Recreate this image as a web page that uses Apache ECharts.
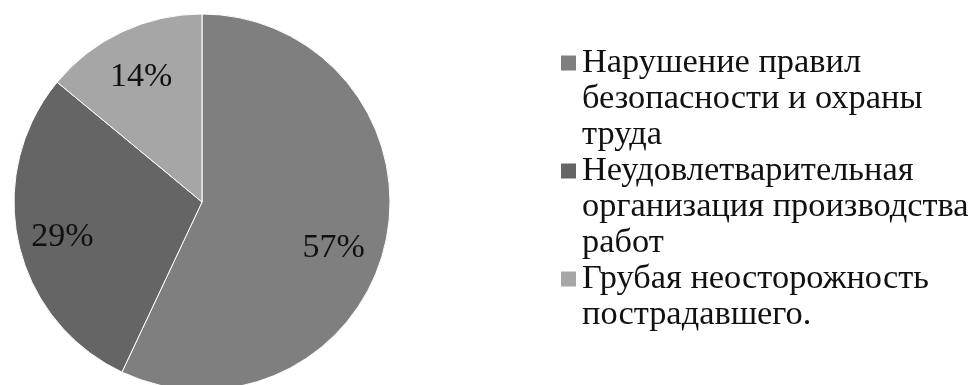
<!DOCTYPE html>
<html>
<head>
<meta charset="utf-8">
<script src="https://cdn.jsdelivr.net/npm/echarts@6/dist/echarts.min.js"></script>
<style>
  html, body { margin: 0; padding: 0; background: #fff; }
  #chart { width: 975px; height: 385px; }
</style>
</head>
<body>
<div id="chart"></div>
<script>
// Causes of workplace accidents, share in percent
const categories = [
  'Нарушение правил\nбезопасности и охраны\nтруда',
  'Неудовлетварительная\nорганизация производства\nработ',
  'Грубая неосторожность\nпострадавшего.'
];
const values = [57, 29, 14];
const colors = ['#7f7f7f', '#656565', '#a6a6a6'];

const FONT = "'Liberation Serif', 'Times New Roman', serif";
const pieData = categories.map((name, i) => ({ name: name, value: values[i] }));

// legend swatches are drawn as rich-text boxes on the first line of each entry
const rich = {
  ind: { width: 15 },
  t: { fontFamily: FONT, fontSize: 34.4, lineHeight: 36, color: '#111', padding: [0, 0, 0, 6] }
};
colors.forEach((c, i) => {
  rich['b' + i] = { width: 15, height: 15, backgroundColor: c };
});

const chart = echarts.init(document.getElementById('chart'), null, { renderer: 'canvas' });
chart.setOption({
  animation: false,
  backgroundColor: '#fff',
  legend: {
    orient: 'vertical',
    left: 555,
    top: 45,
    padding: 0,
    itemGap: 0,
    itemWidth: 0,
    itemHeight: 0,
    selectedMode: false,
    itemStyle: { opacity: 0 },
    data: categories,
    textStyle: { fontFamily: FONT, fontSize: 34.4, lineHeight: 36, color: '#111', rich: rich },
    formatter: function (name) {
      const i = categories.indexOf(name);
      return name.split('\n')
        .map((line, k) => (k === 0 ? '{b' + i + '| }' : '{ind| }') + '{t|' + line + '}')
        .join('\n');
    }
  },
  series: [
    {
      type: 'pie',
      center: [202, 202],
      radius: [0, 188],
      startAngle: 90,
      clockwise: true,
      silent: true,
      color: colors,
      itemStyle: { borderColor: '#ffffff', borderWidth: 1 },
      label: { show: false },
      labelLine: { show: false },
      emphasis: { disabled: true },
      data: pieData
    },
    {
      // transparent ring that carries the percentage labels
      type: 'pie',
      center: [202, 202],
      radius: [92, 188],
      startAngle: 90,
      clockwise: true,
      silent: true,
      itemStyle: { color: 'rgba(0,0,0,0)' },
      label: {
        show: true,
        position: 'inside',
        fontFamily: FONT,
        fontSize: 34,
        color: '#111',
        offset: [0, 4],
        formatter: function (p) { return p.value + '%'; }
      },
      labelLine: { show: false },
      emphasis: { disabled: true },
      data: pieData.map((d, i) => i === 0 ? Object.assign({}, d, { label: { offset: [-8, 15] } }) : d)
    }
  ]
});
</script>
</body>
</html>
